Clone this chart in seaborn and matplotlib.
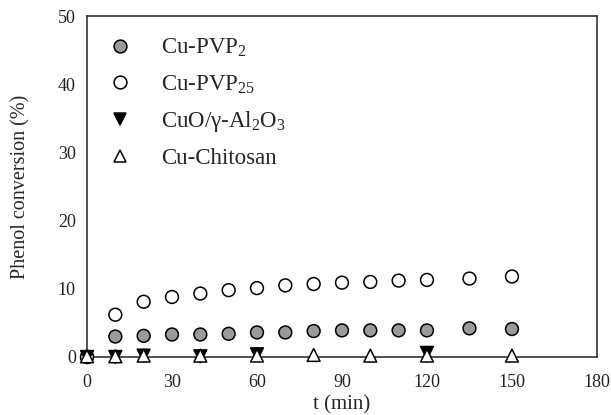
import numpy as np
import pandas as pd
import matplotlib
matplotlib.use("Agg")
import matplotlib.pyplot as plt
import seaborn as sns
from matplotlib.ticker import MultipleLocator

# data
t_pvp2 = [0, 10, 20, 30, 40, 50, 60, 70, 80, 90, 100, 110, 120, 135, 150]
y_pvp2 = [0, 3.0, 3.1, 3.3, 3.3, 3.4, 3.6, 3.6, 3.8, 3.9, 3.9, 3.9, 3.9, 4.2, 4.1]

t_pvp25 = [0, 10, 20, 30, 40, 50, 60, 70, 80, 90, 100, 110, 120, 135, 150]
y_pvp25 = [0, 6.2, 8.1, 8.8, 9.3, 9.8, 10.1, 10.5, 10.7, 10.9, 11.0, 11.2, 11.3, 11.5, 11.8]

t_cuo = [0, 10, 20, 40, 60, 120]
y_cuo = [0, 0, 0.2, 0.1, 0.4, 0.6]

t_chit = [0, 10, 20, 40, 60, 80, 100, 120, 150]
y_chit = [0.1, 0.1, 0.2, 0.2, 0.2, 0.3, 0.2, 0.2, 0.2]

names = ["Cu-PVP$_2$", "Cu-PVP$_{25}$", "CuO/γ-Al$_2$O$_3$", "Cu-Chitosan"]

df = pd.concat([
    pd.DataFrame({"t": t_pvp2, "conv": y_pvp2, "catalyst": names[0]}),
    pd.DataFrame({"t": t_pvp25, "conv": y_pvp25, "catalyst": names[1]}),
    pd.DataFrame({"t": t_cuo, "conv": y_cuo, "catalyst": names[2]}),
    pd.DataFrame({"t": t_chit, "conv": y_chit, "catalyst": names[3]}),
], ignore_index=True)

sns.set_style("white")
plt.rcParams["font.family"] = ["Liberation Serif", "DejaVu Serif"]
plt.rcParams["mathtext.default"] = "regular"

fig = plt.figure(figsize=(6.11, 4.15), dpi=100)
ax = fig.add_axes([0.1424, 0.1398, 0.8346, 0.8216])

palette = {names[0]: "#9a9a9a", names[1]: "white", names[2]: "black", names[3]: "white"}
markers = {names[0]: "o", names[1]: "o", names[2]: "v", names[3]: "^"}

sns.scatterplot(data=df, x="t", y="conv", hue="catalyst", style="catalyst",
                palette=palette, markers=markers, hue_order=names, style_order=names,
                s=85, edgecolor="black", linewidth=1.1, clip_on=False, zorder=3, ax=ax)

ax.set_xlim(0, 180)
ax.set_ylim(0, 50)
ax.xaxis.set_major_locator(MultipleLocator(30))
ax.xaxis.set_minor_locator(MultipleLocator(6))
ax.yaxis.set_major_locator(MultipleLocator(10))
ax.yaxis.set_minor_locator(MultipleLocator(2.5))
ax.tick_params(which="both", direction="in", color="black", width=1,
               labelsize=13, labelcolor="#222222")
ax.tick_params(which="major", length=5)
ax.tick_params(axis="x", which="major", pad=12)
ax.tick_params(axis="y", which="major", pad=8)
ax.tick_params(which="minor", length=4)
for sp in ax.spines.values():
    sp.set_color("#333333")
    sp.set_linewidth(1.2)

ax.set_xlabel("t (min)", fontsize=15, labelpad=3)
ax.set_ylabel("Phenol conversion (%)", fontsize=14.5, labelpad=20)

handles, labels = ax.get_legend_handles_labels()
ax.legend(handles, labels, frameon=False, loc="upper left", bbox_to_anchor=(-0.012, 0.985),
          fontsize=16.5, handletextpad=0.8, labelspacing=0.6, markerscale=1.0,
          borderaxespad=0.3)

fig.savefig("out.png", dpi=100)
